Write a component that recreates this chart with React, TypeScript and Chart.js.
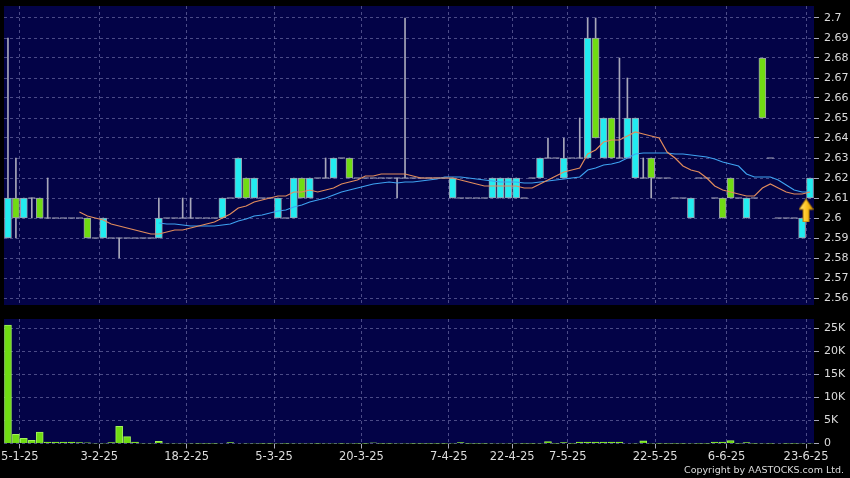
import React, { useEffect, useRef } from "react";
import { Chart, registerables } from "chart.js";

Chart.register(...registerables);

// ---- data (one entry per trading session, oldest first) ----
const opens = [
  2.59, 2.61, 2.6, 2.61, 2.61, 2.6, 2.6, 2.6, 2.6, 2.6,
  2.6, 2.59, 2.59, 2.59, 2.59, 2.59, 2.59, 2.59, 2.59, 2.59,
  2.6, 2.6, 2.6, 2.6, 2.6, 2.6, 2.6, 2.6, 2.61, 2.61,
  2.62, 2.61, 2.61, 2.61, 2.6, 2.6, 2.6, 2.62, 2.61, 2.62,
  2.62, 2.62, 2.63, 2.63, 2.62, 2.62, 2.62, 2.62, 2.62, 2.62,
  2.62, 2.62, 2.62, 2.62, 2.62, 2.62, 2.61, 2.61, 2.61, 2.61,
  2.61, 2.61, 2.61, 2.61, 2.61, 2.61, 2.62, 2.62, 2.63, 2.63,
  2.62, 2.63, 2.63, 2.63, 2.69, 2.63, 2.65, 2.63, 2.63, 2.62,
  2.62, 2.63, 2.62, 2.62, 2.61, 2.61, 2.6, 2.62, 2.62, 2.61,
  2.61, 2.62, 2.61, 2.6, 2.61, 2.68, 2.63, 2.6, 2.6, 2.6,
  2.59, 2.61,
];
const highs = [
  2.69, 2.63, 2.61, 2.61, 2.61, 2.62, 2.6, 2.6, 2.6, 2.6,
  2.6, 2.59, 2.6, 2.59, 2.59, 2.59, 2.59, 2.59, 2.59, 2.61,
  2.6, 2.6, 2.61, 2.61, 2.6, 2.6, 2.6, 2.61, 2.61, 2.63,
  2.62, 2.62, 2.61, 2.61, 2.61, 2.6, 2.62, 2.62, 2.62, 2.62,
  2.63, 2.63, 2.63, 2.63, 2.62, 2.62, 2.62, 2.62, 2.62, 2.62,
  2.7, 2.62, 2.62, 2.62, 2.62, 2.62, 2.62, 2.61, 2.61, 2.61,
  2.61, 2.62, 2.62, 2.62, 2.62, 2.61, 2.62, 2.63, 2.64, 2.63,
  2.64, 2.63, 2.65, 2.7, 2.7, 2.65, 2.65, 2.68, 2.67, 2.65,
  2.63, 2.63, 2.62, 2.62, 2.61, 2.61, 2.61, 2.62, 2.62, 2.61,
  2.61, 2.62, 2.61, 2.61, 2.61, 2.68, 2.63, 2.6, 2.6, 2.6,
  2.6, 2.62,
];
const lows = [
  2.59, 2.59, 2.6, 2.6, 2.6, 2.6, 2.6, 2.6, 2.6, 2.6,
  2.59, 2.59, 2.59, 2.59, 2.58, 2.59, 2.59, 2.59, 2.59, 2.59,
  2.6, 2.6, 2.6, 2.6, 2.6, 2.6, 2.6, 2.6, 2.61, 2.61,
  2.61, 2.61, 2.61, 2.61, 2.6, 2.6, 2.6, 2.61, 2.61, 2.62,
  2.62, 2.62, 2.63, 2.62, 2.62, 2.62, 2.62, 2.62, 2.62, 2.61,
  2.62, 2.62, 2.62, 2.62, 2.62, 2.62, 2.61, 2.61, 2.61, 2.61,
  2.61, 2.61, 2.61, 2.61, 2.61, 2.61, 2.62, 2.62, 2.63, 2.63,
  2.62, 2.63, 2.63, 2.63, 2.64, 2.63, 2.63, 2.63, 2.63, 2.62,
  2.62, 2.61, 2.62, 2.62, 2.61, 2.61, 2.6, 2.62, 2.62, 2.61,
  2.6, 2.61, 2.61, 2.6, 2.61, 2.65, 2.63, 2.6, 2.6, 2.6,
  2.59, 2.61,
];
const closes = [
  2.61, 2.6, 2.61, 2.61, 2.6, 2.6, 2.6, 2.6, 2.6, 2.6,
  2.59, 2.59, 2.6, 2.59, 2.59, 2.59, 2.59, 2.59, 2.59, 2.6,
  2.6, 2.6, 2.6, 2.6, 2.6, 2.6, 2.6, 2.61, 2.61, 2.63,
  2.61, 2.62, 2.61, 2.61, 2.61, 2.6, 2.62, 2.61, 2.62, 2.62,
  2.62, 2.63, 2.63, 2.62, 2.62, 2.62, 2.62, 2.62, 2.62, 2.62,
  2.62, 2.62, 2.62, 2.62, 2.62, 2.62, 2.62, 2.61, 2.61, 2.61,
  2.61, 2.62, 2.62, 2.62, 2.62, 2.61, 2.62, 2.63, 2.63, 2.63,
  2.63, 2.63, 2.63, 2.69, 2.64, 2.65, 2.63, 2.63, 2.65, 2.65,
  2.62, 2.62, 2.62, 2.62, 2.61, 2.61, 2.61, 2.62, 2.62, 2.61,
  2.6, 2.61, 2.61, 2.61, 2.61, 2.65, 2.63, 2.6, 2.6, 2.6,
  2.6, 2.62,
];
const volumes = [
  25700, 2000, 1100, 700, 2500, 300, 300, 300, 300, 200,
  150, 60, 60, 200, 3700, 1500, 300, 60, 60, 450,
  50, 50, 60, 60, 40, 40, 40, 100, 200, 100,
  60, 60, 40, 40, 60, 40, 80, 60, 60, 40,
  60, 60, 40, 60, 40, 40, 120, 40, 40, 60,
  80, 40, 40, 40, 40, 40, 60, 200, 40, 40,
  40, 60, 60, 60, 60, 40, 40, 60, 400, 40,
  200, 40, 300, 300, 300, 300, 300, 300, 100, 60,
  600, 60, 40, 40, 40, 40, 60, 40, 40, 300,
  300, 650, 40, 200, 40, 80, 40, 100, 40, 40,
  60, 60,
];
// 10-day and 20-day moving averages as plotted (null before they start)
const ma10 = [
  null, null, null, null, null, null, null, null, null, 2.603,
  2.601, 2.6, 2.599, 2.597, 2.596, 2.595, 2.594, 2.593, 2.592, 2.592,
  2.593, 2.594, 2.594, 2.595, 2.596, 2.597, 2.598, 2.6, 2.602, 2.605,
  2.606, 2.608, 2.609, 2.61, 2.611, 2.611, 2.613, 2.613, 2.614, 2.613,
  2.614, 2.615, 2.617, 2.618, 2.619, 2.621, 2.621, 2.622, 2.622, 2.622,
  2.622, 2.621, 2.62, 2.62, 2.62, 2.62, 2.62, 2.619, 2.618, 2.617,
  2.616, 2.616, 2.616, 2.616, 2.616, 2.615, 2.615, 2.617, 2.619, 2.621,
  2.623, 2.624, 2.625, 2.632, 2.634, 2.638, 2.639, 2.639, 2.641, 2.643,
  2.642, 2.641, 2.64, 2.633, 2.63, 2.626, 2.624, 2.623, 2.62, 2.616,
  2.614, 2.613, 2.612, 2.611, 2.611, 2.615, 2.617, 2.615, 2.613, 2.612,
  2.612, 2.613,
];
const ma20 = [
  null, null, null, null, null, null, null, null, null, null,
  null, null, null, null, null, null, null, null, null, 2.5975,
  2.597, 2.597, 2.5965, 2.596, 2.596, 2.596, 2.596, 2.5965, 2.597, 2.5985,
  2.5995, 2.601, 2.6015, 2.6025, 2.6035, 2.604, 2.6055, 2.6065, 2.608, 2.609,
  2.61, 2.6115, 2.613, 2.614, 2.615, 2.616, 2.617, 2.6175, 2.618, 2.6175,
  2.618, 2.618, 2.6185, 2.619, 2.6195, 2.6205, 2.6205, 2.6205, 2.62, 2.6195,
  2.619, 2.6185, 2.618, 2.618, 2.618, 2.6175, 2.6175, 2.618, 2.6185, 2.619,
  2.6195, 2.62, 2.6205, 2.624, 2.625, 2.6265, 2.627, 2.628, 2.63, 2.632,
  2.6325, 2.6325, 2.6325, 2.6325, 2.632, 2.632, 2.6315, 2.631, 2.6305, 2.6295,
  2.628, 2.627, 2.626, 2.622, 2.6205, 2.6205, 2.6205, 2.619, 2.6165, 2.614,
  2.613, 2.613,
];
// date ticks sit on the boundary before the labelled session
const xTickPositions = [1.5, 11.5, 22.5, 33.5, 44.5, 55.5, 63.5, 70.5, 81.5, 90.5, 100.5];
const xTickLabels = ["5-1-25", "3-2-25", "18-2-25", "5-3-25", "20-3-25", "7-4-25", "22-4-25", "7-5-25", "22-5-25", "6-6-25", "23-6-25"];
const priceTicks = [2.56, 2.57, 2.58, 2.59, 2.6, 2.61, 2.62, 2.63, 2.64, 2.65, 2.66, 2.67, 2.68, 2.69, 2.7];
const volumeTicks = [0, 5000, 10000, 15000, 20000, 25000];
// latest-price marker
const marker = { x: 100.5, y: 2.6038 };

// ---- styles ----
const CYAN = "#22ecf0";
const GREEN = "#70dc12";
const NAVY = "#030347";
const GRID = "rgba(120,120,175,0.62)";
const WICK = "#a8a8ba";
const TEXT = "#dcdcdc";
const FONT = "DejaVu Sans";
const ORANGE = "#e28c5c";
const BLUE = "#3ea2f0";

const plotBg = {
  id: "plotBg",
  beforeDraw(chart: any) {
    const { ctx, chartArea: a } = chart;
    ctx.save();
    ctx.fillStyle = NAVY;
    ctx.fillRect(a.left, a.top, a.right - a.left, a.bottom - a.top);
    ctx.restore();
  },
};

function makeArrow() {
  const c = document.createElement("canvas");
  c.width = 15;
  c.height = 24;
  const g = c.getContext("2d") as CanvasRenderingContext2D;
  const grad = g.createLinearGradient(0, 0, 15, 0);
  grad.addColorStop(0, "#ffe98a");
  grad.addColorStop(0.5, "#ffc726");
  grad.addColorStop(1, "#d99a00");
  g.beginPath();
  g.moveTo(7.5, 0.5);
  g.lineTo(14.5, 11);
  g.lineTo(10.5, 11);
  g.lineTo(10.5, 23.5);
  g.lineTo(4.5, 23.5);
  g.lineTo(4.5, 11);
  g.lineTo(0.5, 11);
  g.closePath();
  g.fillStyle = grad;
  g.fill();
  g.strokeStyle = "#b07a00";
  g.lineWidth = 1;
  g.stroke();
  return c;
}

function xAxis(showLabels: boolean, xMin: number, xMax: number) {
  return {
    type: "linear",
    min: xMin,
    max: xMax,
    offset: false,
    afterBuildTicks: (s: any) => {
      s.ticks = xTickPositions.map((v) => ({ value: v }));
    },
    afterFit: (s: any) => {
      s.height = showLabels ? 34.5 : 0;
      s.paddingLeft = 0;
      s.paddingRight = 0;
    },
    grid: {
      offset: false,
      color: GRID,
      lineWidth: 1,
      drawTicks: showLabels,
      tickLength: 5,
      tickColor: WICK,
      tickBorderDash: [],
    },
    border: { display: false, dash: [3, 3] },
    ticks: {
      display: showLabels,
      autoSkip: false,
      maxRotation: 0,
      minRotation: 0,
      padding: 2,
      color: TEXT,
      font: { family: FONT, size: 11.5 },
      callback: (v: number) => {
        const k = xTickPositions.indexOf(v);
        return k >= 0 ? xTickLabels[k] : "";
      },
    },
  };
}

function yAxis(min: number, max: number, ticks: number[], fmt: (v: number) => string) {
  return {
    type: "linear",
    position: "right",
    min,
    max,
    afterBuildTicks: (s: any) => {
      s.ticks = ticks.map((v) => ({ value: v }));
    },
    afterFit: (s: any) => {
      s.width = 36;
      s.paddingTop = 0;
      s.paddingBottom = 0;
    },
    grid: {
      color: GRID,
      lineWidth: 1,
      drawTicks: true,
      tickLength: 5,
      tickColor: WICK,
      tickBorderDash: [],
    },
    border: { display: false, dash: [3, 3] },
    ticks: {
      padding: 5,
      color: TEXT,
      font: { family: FONT, size: 11 },
      callback: (v: number) => fmt(v),
    },
  };
}

export default function App() {
  const priceRef = useRef<HTMLCanvasElement>(null);
  const volRef = useRef<HTMLCanvasElement>(null);

  useEffect(() => {
    const n = closes.length;
    const idx = closes.map((_, i) => i);
    const xMin = -0.5;
    const xMax = n - 0.5;

    const wickData = idx
      .filter((i) => highs[i] !== lows[i])
      .map((i) => ({ x: i, y: [lows[i], highs[i]] }));
    const bodyIdx = idx.filter((i) => opens[i] !== closes[i]);
    const bodyData = bodyIdx.map((i) => ({
      x: i,
      y: [Math.min(opens[i], closes[i]), Math.max(opens[i], closes[i])],
    }));
    const bodyColors = bodyIdx.map((i) => (closes[i] > opens[i] ? CYAN : GREEN));
    const flatData = idx.filter((i) => opens[i] === closes[i]).map((i) => ({ x: i, y: closes[i] }));
    const ma10Data = idx.filter((i) => ma10[i] != null).map((i) => ({ x: i, y: ma10[i] }));
    const ma20Data = idx.filter((i) => ma20[i] != null).map((i) => ({ x: i, y: ma20[i] }));

    const common = {
      responsive: false,
      animation: false,
      devicePixelRatio: 1,
      events: [],
      plugins: { legend: { display: false }, tooltip: { enabled: false } },
    };

    const price = new Chart(priceRef.current as HTMLCanvasElement, {
      type: "bar",
      data: {
        datasets: [
          {
            type: "bar",
            data: wickData,
            backgroundColor: WICK,
            borderWidth: 0,
            barThickness: 1,
            grouped: false,
            order: 4,
          },
          {
            type: "bar",
            data: bodyData,
            backgroundColor: bodyColors,
            borderColor: "#9c9cae",
            borderWidth: 1,
            borderSkipped: false,
            barThickness: 7,
            grouped: false,
            order: 3,
          },
          {
            type: "line",
            data: flatData,
            showLine: false,
            pointStyle: "line",
            pointRadius: 3.5,
            pointBorderColor: WICK,
            pointBorderWidth: 1,
            order: 3,
          },
          {
            type: "line",
            data: ma20Data,
            borderColor: BLUE,
            borderWidth: 1.2,
            pointRadius: 0,
            tension: 0,
            order: 2,
          },
          {
            type: "line",
            data: ma10Data,
            borderColor: ORANGE,
            borderWidth: 1.2,
            pointRadius: 0,
            tension: 0,
            order: 1,
          },
          {
            type: "line",
            data: [marker],
            showLine: false,
            pointStyle: makeArrow(),
            pointRadius: 8,
            order: 0,
          },
        ],
      } as any,
      options: {
        ...common,
        layout: { autoPadding: false, padding: { left: 4, top: 6, right: 0, bottom: 7 } },
        scales: {
          x: xAxis(false, xMin, xMax),
          y: yAxis(2.5565, 2.706, priceTicks, (v) => String(+v.toFixed(2))),
        },
      } as any,
      plugins: [plotBg],
    });

    const vol = new Chart(volRef.current as HTMLCanvasElement, {
      type: "bar",
      data: {
        datasets: [
          {
            type: "bar",
            data: idx.map((i) => ({ x: i, y: volumes[i] })),
            backgroundColor: GREEN,
            borderColor: "#a2f25a",
            borderWidth: 1,
            barThickness: 7,
            grouped: false,
          },
        ],
      } as any,
      options: {
        ...common,
        layout: { autoPadding: false, padding: { left: 4, top: 7, right: 0, bottom: 0 } },
        scales: {
          x: xAxis(true, xMin, xMax),
          y: yAxis(0, 27000, volumeTicks, (v) => (v === 0 ? "0" : `${v / 1000}K`)),
        },
      } as any,
      plugins: [plotBg],
    });

    return () => {
      price.destroy();
      vol.destroy();
    };
  }, []);

  return (
    <div
      style={{
        position: "fixed",
        left: 0,
        top: 0,
        width: 850,
        height: 478,
        background: "#000",
        overflow: "hidden",
      }}
    >
      <canvas
        ref={priceRef}
        width={850}
        height={312}
        style={{ position: "absolute", left: 0, top: 0, width: 850, height: 312 }}
      />
      <canvas
        ref={volRef}
        width={850}
        height={166}
        style={{ position: "absolute", left: 0, top: 312, width: 850, height: 166 }}
      />
      <div
        style={{
          position: "absolute",
          right: 6,
          top: 464,
          fontFamily: FONT,
          fontSize: 9.5,
          lineHeight: "12px",
          color: TEXT,
          whiteSpace: "nowrap",
        }}
      >
        Copyright by AASTOCKS.com Ltd.
      </div>
    </div>
  );
}
